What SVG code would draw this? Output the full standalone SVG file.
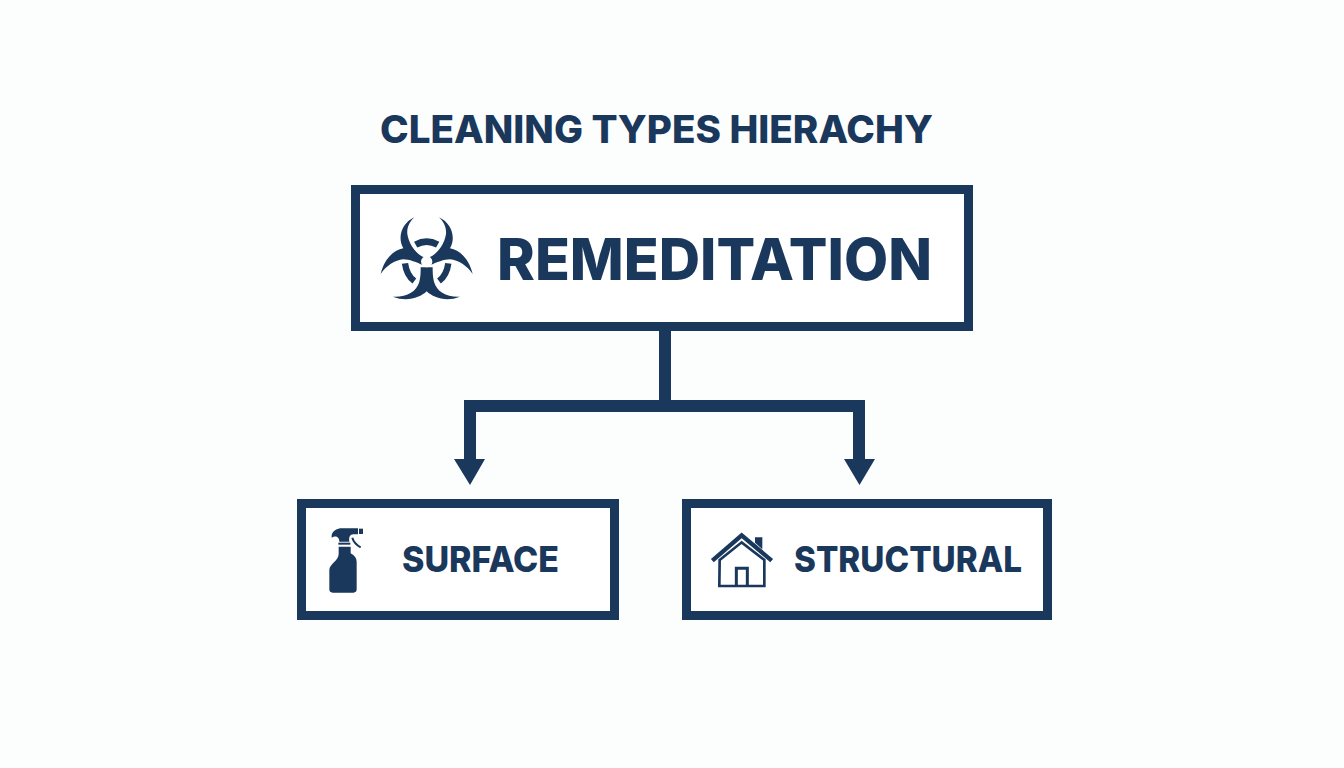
<svg xmlns="http://www.w3.org/2000/svg" width="1344" height="768" viewBox="0 0 1344 768">
<style>
.box{fill:#fff;stroke:#1a375c;stroke-width:9}
.ink{fill:#1a375c}
.line{fill:none;stroke:#1a375c}
text{font-family:"Inter","Liberation Sans",sans-serif;font-weight:800;fill:#1a375c}
</style>
<rect width="1344" height="768" fill="#fcfdfd"/>
<text id="title" x="380" y="143" font-size="38" textLength="553" lengthAdjust="spacingAndGlyphs">CLEANING TYPES HIERACHY</text>
<g id="connectors">
<path class="ink" d="M659 331H671V400H865V459H875L859.500 485L844 459H853V412H476V459H485L470 485L454 459H464V400H659Z"/>
</g>
<g id="remediation">
<rect class="box" x="355.500" y="189.500" width="613" height="137"/>
<g transform="translate(350 180) scale(.33333)">
<path class="ink" d="M193 112C158 128 140 170 160 205C132 210 103 235 92 282C108 258 135 240 160 238C178 238 200 247 220 256L222 232C198 222 176 192 172 162C170 142 180 124 193 112Z"/>
<path class="ink" d="M267 112C302 128 320 170 300 205C328 210 357 235 368 282C352 258 325 240 300 238C282 238 260 247 240 256L238 232C262 222 284 192 288 162C290 142 280 124 267 112Z"/>
<path class="ink" d="M128 350C170 352 200 335 208 305C212 290 212 278 212 262H248C248 278 248 290 252 305C260 335 290 352 330 350C290 366 250 354 230 334C210 354 170 366 128 350Z"/>
<circle cx="230" cy="245" r="17" fill="#fff"/>
<path class="line" stroke-width="20" d="M197 194Q230 176 263 194"/>
<path class="line" stroke-width="19" d="M165 250C168 272 178 292 193 303"/>
<path class="line" stroke-width="19" d="M295 250C292 272 282 292 267 303"/>
</g>
<text x="497" y="280" font-size="58" textLength="435" lengthAdjust="spacingAndGlyphs">REMEDITATION</text>
</g>
<g id="surface">
<rect class="box" x="301.500" y="503.500" width="313" height="112"/>
<g transform="translate(290 490) scale(.33333)">
<path class="ink" d="M125 135C128 122 142 115 155 115H204V133H190C180 133 176 142 178 155H148C148 143 140 134 125 143Z"/>
<rect class="ink" x="207" y="116" width="12" height="16"/>
<rect class="ink" x="145" y="158" width="36" height="6"/>
<path class="ink" d="M146 170H182V190Q200 200 200 215V298Q200 308 190 308H128Q118 308 118 298V240C118 222 146 212 146 192Z"/>
<path class="line" stroke-width="6" d="M187 143C190 155 200 165 212 172"/>
</g>
<text x="402" y="572" font-size="36" textLength="157" lengthAdjust="spacingAndGlyphs">SURFACE</text>
</g>
<g id="structural">
<rect class="box" x="686.500" y="503.500" width="361" height="112"/>
<g transform="translate(675 490) scale(.33333)">
<path class="ink" d="M240 142H262V178L240 158Z"/>
<path class="line" stroke-width="13" d="M112 212L200 136L290 212"/>
<path class="line" stroke-width="8" d="M134 210L200 157L268 210V288H133Z"/>
<path class="line" stroke-width="9" d="M184 286V235H217V286"/>
</g>
<text x="794" y="572" font-size="36" textLength="228" lengthAdjust="spacingAndGlyphs">STRUCTURAL</text>
</g>
</svg>
